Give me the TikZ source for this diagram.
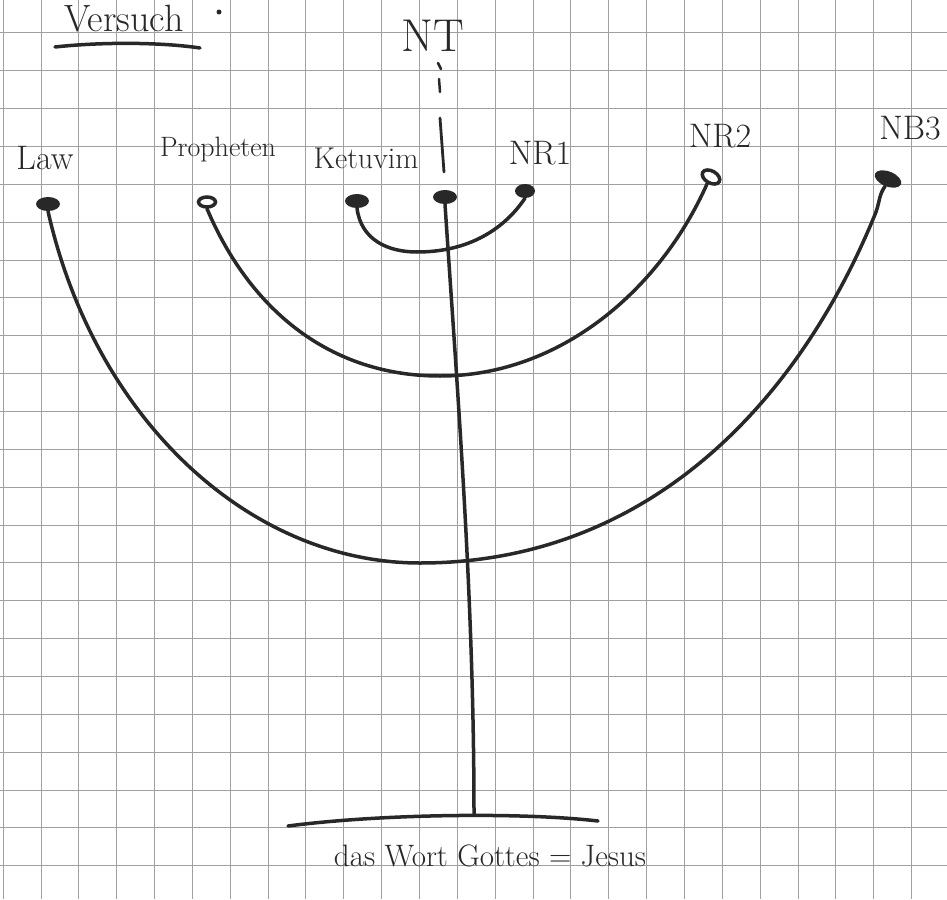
\documentclass[tikz,border=0pt]{standalone}
\usetikzlibrary{shapes.geometric}
\definecolor{ink}{RGB}{40,40,40}
\definecolor{gridc}{RGB}{160,160,160}
\begin{document}
\begin{tikzpicture}[x=1pt,y=-1pt,
  stroke/.style={draw=ink,line width=3.5pt,line cap=round},
  dotfull/.style={ellipse,fill=ink,inner sep=0pt,minimum width=24pt,minimum height=14pt},
  dotring/.style={ellipse,draw=ink,fill=white,line width=3.5pt,inner sep=0pt,minimum width=17pt,minimum height=10pt},
  lbl/.style={text=ink,font=\fontsize{30}{34}\selectfont,inner sep=0pt}]
\useasboundingbox (0,0) rectangle (947,899);
\fill[white] (0,0) rectangle (947,899);
% grid paper
\foreach \k in {0,...,24} {\draw[gridc,line width=1pt] ({3.15+37.85*\k},0) -- ({3.15+37.85*\k},899);}
\foreach \k in {0,...,23} {\draw[gridc,line width=1pt] (0,{33+37.85*\k}) -- (947,{33+37.85*\k});}
% title
\node[lbl,font=\fontsize{38}{44}\selectfont,anchor=base] (title) at (124,32) {Versuch};
\draw[stroke] (55,47) .. controls (100,42) and (160,42) .. (200,48);
\fill[ink] (219,12) circle (2.5pt);
% NT mark
\node[lbl,font=\fontsize{46}{52}\selectfont] (nt) at (433,36) {NT};
\draw[stroke,line width=2.5pt] (438,63) -- (441,69);
\draw[stroke,line width=2.5pt] (439,79) -- (440,92);
\draw[stroke,line width=2.8pt] (440,118) -- (444,172);
% labels
\node[lbl,font=\fontsize{34}{38}\selectfont] (lawl) at (45,158) {Law};
\node[lbl,font=\fontsize{28}{32}\selectfont] (prol) at (218,150) {Propheten};
\node[lbl] (ketl) at (366,158) {Ketuvim};
\node[lbl,font=\fontsize{34}{38}\selectfont] (nr1l) at (540,153) {NR1};
\node[lbl,font=\fontsize{34}{38}\selectfont] (nr2l) at (720,136) {NR2};
\node[lbl,font=\fontsize{34}{38}\selectfont] (nb3l) at (910,128) {NB3};
% dots
\node[dotfull] (law) at (48,204) {};
\node[dotring] (pro) at (207,202) {};
\node[dotfull] (ket) at (357,201) {};
\node[dotfull] (ctr) at (445,197) {};
\node[dotfull,minimum width=20pt,minimum height=14pt] (nr1) at (525,191) {};
\node[dotring,rotate=-30,minimum width=19pt,minimum height=12pt] (nr2) at (711,177) {};
\node[dotfull,rotate=-22,minimum width=28pt,minimum height=15pt] (nb3) at (888,179) {};
% base
\coordinate (bl) at (288,826);
\coordinate (br) at (598,821);
\coordinate (bm) at (474,815);
\draw[stroke] (bl) .. controls (380,814) and (520,812) .. (br);
% stem
\draw[stroke] (ctr.south) .. controls (458,400) and (474,600) .. (bm);
% inner arc
\coordinate (b1) at (417,252);
\draw[stroke] (ket.south) .. controls (361,240) and (388,252) .. (b1) .. controls (470,252) and (505,228) .. (nr1.south);
% middle arc
\coordinate (b2) at (440,376);
\draw[stroke] (pro.south) .. controls (250,310) and (330,376) .. (b2) .. controls (560,376) and (660,290) .. (nr2.south);
% outer arc
\coordinate (b3) at (420,563);
\coordinate (w3) at (876,212);
\draw[stroke] (law.south) .. controls (95,420) and (250,563) .. (b3) .. controls (650,563) and (800,400) .. (w3) .. controls (880,200) and (879,195) .. (nb3.south);
% bottom text
\node[lbl,font=\fontsize{31}{36}\selectfont] (word) at (490,856) {das Wort Gottes = Jesus};
\end{tikzpicture}
\end{document}
